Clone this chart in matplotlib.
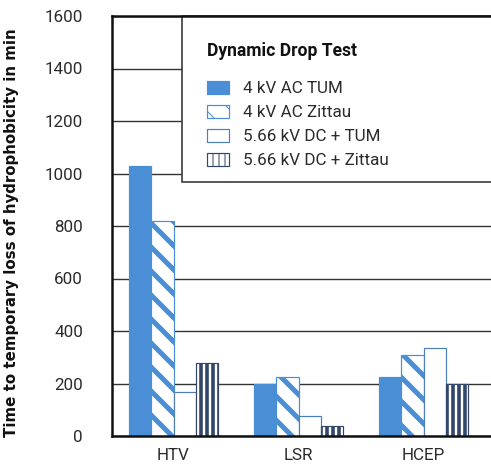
import matplotlib
matplotlib.use('Agg')
import numpy as np
import matplotlib.pyplot as plt
from matplotlib.patches import Rectangle

plt.rcParams['font.family'] = ['Roboto', 'DejaVu Sans']

# data
materials = ['HTV', 'LSR', 'HCEP']
series_names = ['4 kV AC TUM', '4 kV AC Zittau', '5.66 kV DC + TUM', '5.66 kV DC + Zittau']
ac_tum = [1030, 200, 223]
ac_zittau = [820, 225, 308]
dc_tum = [168, 76, 337]
dc_zittau = [280, 38, 200]
y_ticks = [0, 200, 400, 600, 800, 1000, 1200, 1400, 1600]

blue = '#4a8fd6'
navy = '#33476a'
text_col = '#2b2b2b'

dpi = 72
fig = plt.figure(figsize=(491 / dpi, 467 / dpi), dpi=dpi)
ax = fig.add_axes([112 / 491, 31 / 467, 379 / 491, 420 / 467])

x = np.arange(len(materials))
w = 0.178

# (values, facecolor, edgecolor, hatch, hatch linewidth)
styles = [
    (ac_tum, blue, blue, None, 1.0),
    (ac_zittau, 'white', blue, '\\', 5.0),
    (dc_tum, 'white', '#4d7fb8', None, 1.0),
    (dc_zittau, 'white', navy, '||', 3.6),
]

handles = []
for i, (vals, fc, ec, hatch, hlw) in enumerate(styles):
    with plt.rc_context({'hatch.linewidth': hlw}):
        bars = ax.bar(x + (i - 1.5) * w, vals, width=w, color=fc, edgecolor=ec,
                      linewidth=1.2, hatch=hatch, zorder=3, label=series_names[i])
        for p in bars.patches:
            if hasattr(p, 'set_hatch_linewidth'):
                p.set_hatch_linewidth(hlw)
    handles.append(bars)

ax.set_xlim(-0.492, 2.54)
ax.set_ylim(0, 1600)
ax.set_yticks(y_ticks)
ax.set_xticks(x)
ax.set_xticklabels(materials)
ax.tick_params(axis='both', length=0, labelsize=17, colors=text_col)
ax.tick_params(axis='y', pad=29)
ax.tick_params(axis='x', pad=12)

ax.yaxis.grid(True, color='#333333', linewidth=1.4, zorder=0)
ax.set_axisbelow(True)
for side in ['left', 'top', 'bottom']:
    ax.spines[side].set_linewidth(2.5)
    ax.spines[side].set_color('#111111')
    ax.spines[side].set_zorder(9)
ax.spines['right'].set_visible(False)

ax.set_ylabel('Time to temporary loss of hydrophobicity in min', fontsize=15,
              fontweight='bold', color='#111111', family='DejaVu Sans')
ax.yaxis.set_label_coords(-0.245, 0.485)

# legend box
box_y0 = 254 / 420
box = Rectangle((70 / 379, box_y0), 1.0, 1.0 - box_y0, transform=ax.transAxes,
                facecolor='white', edgecolor='#333333', linewidth=1.6,
                zorder=6, clip_on=False)
ax.add_patch(box)
fig.text(207 / 491, 1 - 51 / 467, 'Dynamic Drop Test', fontsize=17.5,
         fontweight='bold', color='#111111', va='center', ha='left', zorder=7)

leg = ax.legend(handles=handles, loc='upper left',
                bbox_to_anchor=(207 / 491, 1 - 81 / 467),
                bbox_transform=fig.transFigure, frameon=False, fontsize=17,
                handlelength=1.3, handleheight=0.8, handletextpad=0.8,
                labelspacing=0.5, borderpad=0, borderaxespad=0)
leg.set_zorder(8)
for t in leg.get_texts():
    t.set_color(text_col)

fig.savefig('out.png', dpi=dpi)
